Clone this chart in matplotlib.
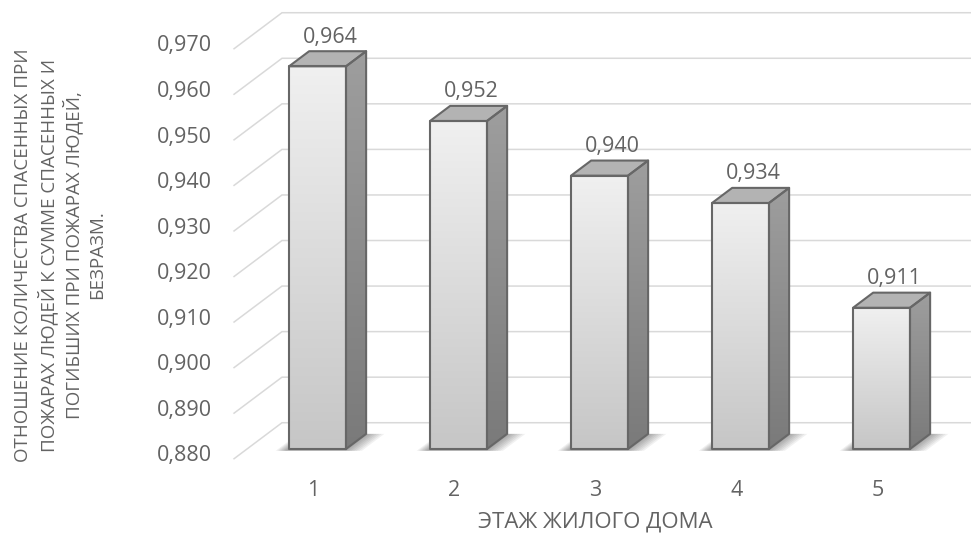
import numpy as np
import matplotlib.pyplot as plt
from matplotlib.patches import Polygon
from matplotlib.colors import LinearSegmentedColormap

plt.rcParams['font.family'] = ['Open Sans', 'DejaVu Sans']

# данные
floors = ['1', '2', '3', '4', '5']
ratio = [0.964, 0.952, 0.940, 0.934, 0.911]
y_ticks = [0.880, 0.890, 0.900, 0.910, 0.920, 0.930, 0.940, 0.950, 0.960, 0.970]

y_title = ('ОТНОШЕНИЕ КОЛИЧЕСТВА СПАСЕННЫХ ПРИ\n'
           'ПОЖАРАХ ЛЮДЕЙ К СУММЕ СПАСЕННЫХ И\n'
           'ПОГИБШИХ ПРИ ПОЖАРАХ ЛЮДЕЙ,\n'
           'БЕЗРАЗМ.')
x_title = 'ЭТАЖ ЖИЛОГО ДОМА'

TXT = '#636363'
GRID = '#d9d9d9'
EDGE = '#676767'

# псевдо-3D: косоугольная проекция, глубина d от 0 (передний край) до 1 (задняя стенка)
KX, KY = 0.34, 0.0079
D_FRONT, D_BACK = 0.27, 0.69
Y0 = y_ticks[0]
HW = 0.202


def proj(c, v, d):
    return c + (d - D_FRONT) * KX, v + (d - D_FRONT) * KY


fig = plt.figure(figsize=(9.71, 5.37), dpi=100)
ax = fig.add_axes([247 / 971, 88 / 537, 705 / 971, 410 / 537])
ax.axis('off')

# стенки: горизонтальные линии сетки и боковые наклонные
for v in y_ticks:
    p0 = proj(0.5, v, 0)
    p1 = proj(0.5, v, 1)
    p2 = proj(6.0, v, 1)
    ax.plot([p0[0], p1[0], p2[0]], [p0[1], p1[1], p2[1]], color=GRID,
            lw=1.1, zorder=1, clip_on=False, solid_joinstyle='miter')
    ax.annotate(f'{v:.3f}'.replace('.', ','), xy=p0, xytext=(-16, 2),
                textcoords='offset points', ha='right', va='center',
                fontsize=15.5, color=TXT, annotation_clip=False)

front_cmap = LinearSegmentedColormap.from_list('front', ['#c6c6c6', '#f0f0f0'])
side_cmap = LinearSegmentedColormap.from_list('side', ['#7a7a7a', '#9e9e9e'])
grad = np.linspace(0, 1, 256).reshape(-1, 1)

for i, v in enumerate(ratio):
    c = i + 1

    # мягкая тень на полу
    for e in np.linspace(0.13, 0.02, 7):
        shadow = [proj(c - HW - e * 0.6, Y0, D_FRONT - 0.05),
                  proj(c + HW + e, Y0, D_FRONT - 0.05),
                  proj(c + HW + e, Y0, D_BACK),
                  proj(c - HW - e * 0.6, Y0, D_BACK)]
        ax.add_patch(Polygon(shadow, closed=True, facecolor='black',
                             edgecolor='none', alpha=0.055, zorder=2,
                             clip_on=False))

    front = [proj(c - HW, Y0, D_FRONT), proj(c + HW, Y0, D_FRONT),
             proj(c + HW, v, D_FRONT), proj(c - HW, v, D_FRONT)]
    side = [proj(c + HW, Y0, D_FRONT), proj(c + HW, Y0, D_BACK),
            proj(c + HW, v, D_BACK), proj(c + HW, v, D_FRONT)]
    top = [proj(c - HW, v, D_FRONT), proj(c + HW, v, D_FRONT),
           proj(c + HW, v, D_BACK), proj(c - HW, v, D_BACK)]

    ax.imshow(grad, extent=[c - HW, c + HW, Y0, v], origin='lower',
              aspect='auto', cmap=front_cmap, zorder=3)

    sx = [p[0] for p in side]
    sy = [p[1] for p in side]
    im = ax.imshow(grad, extent=[min(sx), max(sx), min(sy), max(sy)],
                   origin='lower', aspect='auto', cmap=side_cmap, zorder=3)
    clip = Polygon(side, closed=True, transform=ax.transData)
    im.set_clip_path(clip)

    ax.add_patch(Polygon(top, closed=True, facecolor='#b3b3b3',
                         edgecolor='none', zorder=3, clip_on=False))
    for face in (front, side, top):
        ax.add_patch(Polygon(face, closed=True, fill=False, edgecolor=EDGE,
                             lw=1.5, joinstyle='round', zorder=4,
                             clip_on=False))

    ax.annotate(f'{v:.3f}'.replace('.', ','), xy=(c, v), xytext=(9, 21),
                textcoords='offset points', ha='center', va='center',
                fontsize=15.5, color=TXT, annotation_clip=False)
    ax.annotate(floors[i], xy=(c, Y0), xytext=(-3, -30),
                textcoords='offset points', ha='center', va='center',
                fontsize=15.5, color=TXT, annotation_clip=False)

ax.set_xlim(0.5, 5.5)
ax.set_ylim(Y0, y_ticks[-1])

fig.text(60 / 971, 282 / 537, y_title, rotation=90, ha='center', va='center',
         multialignment='center', fontsize=13.5, color=TXT, linespacing=1.3)
fig.text(595 / 971, 15 / 537, x_title, ha='center', va='center',
         fontsize=16, color=TXT)

fig.savefig('out.png', dpi=100, facecolor='white')
